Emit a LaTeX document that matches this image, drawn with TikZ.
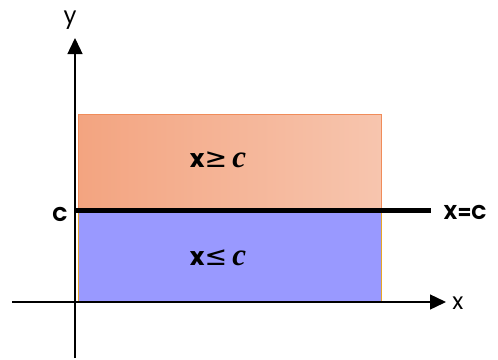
\documentclass[tikz,border=0pt]{standalone}
\usepackage{fontspec}
\setmainfont{Poppins}
\newfontfamily\symfont{DejaVu Sans}
\newfontfamily\cfont{Liberation Serif}
\usetikzlibrary{arrows.meta}
\definecolor{orL}{RGB}{243,164,128}
\definecolor{orR}{RGB}{247,197,174}
\definecolor{orB}{RGB}{240,140,90}
\definecolor{blF}{RGB}{153,153,255}
\definecolor{goldB}{RGB}{232,165,40}
\tikzset{
  axis/.style={line width=1.4pt,-{Triangle[length=16pt,width=15pt]}},
  axlabel/.style={font=\fontsize{23}{23}\selectfont, inner sep=0pt},
  boldlabel/.style={font=\bfseries\fontsize{20}{20}\selectfont, inner sep=0pt},
  ineq/.style={font=\bfseries\fontsize{25}{25}\selectfont, inner sep=0pt}
}
\begin{document}
\begin{tikzpicture}[x=1pt,y=-1pt]
\useasboundingbox (0,0) rectangle (498,359);
\path[draw=orB, line width=0.6pt, left color=orL, right color=orR] (78,114) rectangle (381,210);
\path[draw=goldB, line width=0.8pt, fill=blF] (78,210) rectangle (381,302);
\coordinate (xs) at (12,302);
\coordinate (xe) at (446,302);
\coordinate (ys) at (75,358);
\coordinate (ye) at (75,38);
\draw[axis] (xs) -- (xe);
\draw[axis] (ys) -- (ye);
\coordinate (ls) at (75,210);
\coordinate (le) at (431,210);
\draw[line width=5pt] (ls) -- (le);
\node[axlabel] (ylab) at (70,20) {y};
\node[axlabel] (xlab) at (458,303) {x};
\node[boldlabel] (clab) at (60,214) {C};
\node[boldlabel] (xclab) at (465,212) {X=C};
\node[ineq] (ge) at (218,160) {x{\symfont\mdseries\fontsize{27}{27}\selectfont ≥} {\cfont\bfseries\itshape\fontsize{31}{31}\selectfont c}};
\node[ineq] (le2) at (218,258) {x{\symfont\mdseries\fontsize{27}{27}\selectfont ≤} {\cfont\bfseries\itshape\fontsize{31}{31}\selectfont c}};
\end{tikzpicture}
\end{document}
